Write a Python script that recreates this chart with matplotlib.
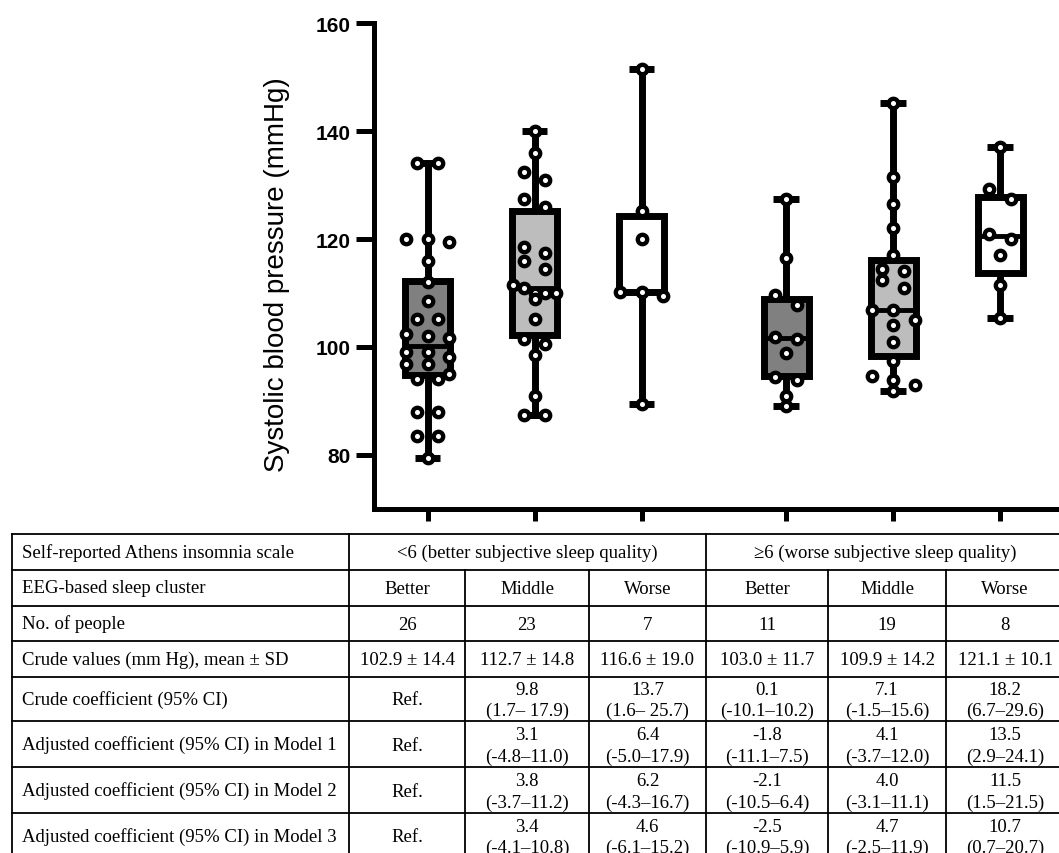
import numpy as np
import matplotlib
matplotlib.use("Agg")
import matplotlib.pyplot as plt

# systolic blood pressure per group
g1 = [134, 134, 120, 120, 119.4, 115.9, 112.0, 108.5, 105.1, 105.1, 102.4, 102.0, 101.6,
      99.0, 99.0, 98.1, 96.9, 96.9, 95.0, 94.0, 94.0, 87.9, 87.9, 83.6, 83.6, 79.4]
g2 = [140.0, 136.0, 132.5, 131.0, 127.5, 126.0, 118.6, 117.5, 115.9, 114.4, 111.5, 111.0,
      110.0, 110.0, 110.0, 108.9, 105.1, 101.4, 100.6, 98.5, 91.0, 87.4, 87.4]
g3 = [151.5, 125.1, 120.0, 110.1, 110.1, 109.5, 89.4]
g4 = [127.5, 116.5, 109.6, 107.8, 101.9, 101.5, 98.9, 94.5, 93.9, 91.0, 89.0]
g5 = [145.2, 131.4, 126.4, 122.0, 117.0, 114.4, 114.0, 112.4, 110.9, 106.9, 106.9, 105.0,
      104.0, 101.0, 97.4, 94.7, 93.9, 93.0, 91.9]
g6 = [137.1, 129.3, 127.4, 121.0, 120.0, 117.0, 111.5, 105.4]
groups = [g1, g2, g3, g4, g5, g6]

# box quartiles as drawn in the figure
q1s = [94.8, 102.2, 110.1, 94.7, 98.3, 113.7]
meds = [100.2, 111.0, 110.1, 101.6, 106.9, 120.6]
q3s = [112.3, 125.2, 124.3, 108.8, 116.2, 127.8]
fills = ["#808080", "#bdbdbd", "white", "#808080", "#bdbdbd", "white"]
positions = [1, 2, 3, 4.35, 5.35, 6.35]

# table contents
row_labels = ["Self-reported Athens insomnia scale", "EEG-based sleep cluster", "No. of people",
              "Crude values (mm Hg), mean \u00b1 SD", "Crude coefficient (95% CI)",
              "Adjusted coefficient (95% CI) in Model 1",
              "Adjusted coefficient (95% CI) in Model 2",
              "Adjusted coefficient (95% CI) in Model 3"]
ais_groups = ["<6 (better subjective sleep quality)", "\u22656 (worse subjective sleep quality)"]
clusters = ["Better", "Middle", "Worse", "Better", "Middle", "Worse"]
n_people = ["26", "23", "7", "11", "19", "8"]
crude_vals = ["102.9 \u00b1 14.4", "112.7 \u00b1 14.8", "116.6 \u00b1 19.0",
              "103.0 \u00b1 11.7", "109.9 \u00b1 14.2", "121.1 \u00b1 10.1"]
crude_coef = ["Ref.", "9.8\n(1.7\u2013 17.9)", "13.7\n(1.6\u2013 25.7)", "0.1\n(-10.1\u201310.2)",
              "7.1\n(-1.5\u201315.6)", "18.2\n(6.7\u201329.6)"]
model1 = ["Ref.", "3.1\n(-4.8\u201311.0)", "6.4\n(-5.0\u201317.9)", "-1.8\n(-11.1\u20137.5)",
          "4.1\n(-3.7\u201312.0)", "13.5\n(2.9\u201324.1)"]
model2 = ["Ref.", "3.8\n(-3.7\u201311.2)", "6.2\n(-4.3\u201316.7)", "-2.1\n(-10.5\u20136.4)",
          "4.0\n(-3.1\u201311.1)", "11.5\n(1.5\u201321.5)"]
model3 = ["Ref.", "3.4\n(-4.1\u201310.8)", "4.6\n(-6.1\u201315.2)", "-2.5\n(-10.9\u20135.9)",
          "4.7\n(-2.5\u201311.9)", "10.7\n(0.7\u201320.7)"]


def swarm(vals, tol=1.95):
    # group close values into rows and spread each row symmetrically
    v = sorted(vals, reverse=True)
    rows = []
    for val in v:
        if rows and rows[-1][0] - val < tol:
            rows[-1].append(val)
        else:
            rows.append([val])
    xs, ys = [], []
    for r in rows:
        k = len(r)
        step = 0.2 if k <= 3 else 0.1
        xs.extend((np.arange(k) - (k - 1) / 2) * step)
        ys.extend(r)
    return np.array(xs), np.array(ys)


plt.rcParams["font.family"] = ["Liberation Sans", "DejaVu Sans"]
fig = plt.figure(figsize=(10.59, 8.54), dpi=100)

ax = fig.add_axes([374 / 1059, (854 - 510) / 854, 1 - 374 / 1059, (510 - 24) / 854])
stats = []
for d, a, m, b in zip(groups, q1s, meds, q3s):
    stats.append(dict(med=m, q1=a, q3=b, whislo=min(d), whishi=max(d), fliers=[]))
bp = ax.bxp(stats, positions=positions, widths=0.42, capwidths=0.24, patch_artist=True,
            showfliers=False,
            boxprops=dict(linewidth=5, edgecolor="black", joinstyle="miter"),
            whiskerprops=dict(linewidth=5, color="black", solid_capstyle="butt"),
            capprops=dict(linewidth=5, color="black", solid_capstyle="butt"),
            medianprops=dict(linewidth=3.5, color="black", solid_capstyle="butt"))
for patch, c in zip(bp["boxes"], fills):
    patch.set_facecolor(c)

for p, d in zip(positions, groups):
    dx, dy = swarm(d)
    ax.plot(p + dx, dy, "o", ms=6.8, mfc="white", mec="black", mew=3.1, zorder=5,
            clip_on=False)

ax.set_xlim(0.5, 6.9)
ax.set_ylim(70, 160)
ax.set_yticks([80, 100, 120, 140, 160])
ax.set_xticks(positions)
ax.set_xticklabels([])
ax.tick_params(axis="y", length=13, width=3.6, labelsize=15, pad=4)
ax.tick_params(axis="x", length=8.5, width=3.6)
for lbl in ax.get_yticklabels():
    lbl.set_fontweight("bold")
for s in ["top", "right"]:
    ax.spines[s].set_visible(False)
for s in ["left", "bottom"]:
    ax.spines[s].set_linewidth(3.6)
ax.set_ylabel("Systolic blood pressure (mmHg)", fontsize=20)
ax.yaxis.set_label_coords(-0.1226, 0.4835)

# table drawn in pixel coordinates
tb = fig.add_axes([0, 0, 1, 1], zorder=-1)
tb.set_xlim(0, 1059)
tb.set_ylim(854, 0)
tb.axis("off")
row_edges = [535, 570.7, 606.7, 642.3, 677.7, 722.3, 768.3, 814, 860]
col_edges = [12, 349, 465, 589, 706, 828, 946, 1064]
lw = 1.3
for y in row_edges:
    tb.plot([col_edges[0], col_edges[-1]], [y, y], color="black", lw=lw, clip_on=False)
for i, x in enumerate(col_edges):
    top = row_edges[0] if i in (0, 1, 4, 7) else row_edges[1]
    tb.plot([x, x], [top, row_edges[-1]], color="black", lw=lw, clip_on=False)

tfont = dict(family="Liberation Serif", fontsize=13.5, color="black")
for r, lab in enumerate(row_labels):
    yc = (row_edges[r] + row_edges[r + 1]) / 2
    tb.text(22, yc, lab, ha="left", va="center", **tfont)
yc = (row_edges[0] + row_edges[1]) / 2
tb.text((col_edges[1] + col_edges[4]) / 2, yc, ais_groups[0], ha="center", va="center", **tfont)
tb.text((col_edges[4] + col_edges[7]) / 2, yc, ais_groups[1], ha="center", va="center", **tfont)
body = [clusters, n_people, crude_vals, crude_coef, model1, model2, model3]
for r, vals in enumerate(body, start=1):
    yc = (row_edges[r] + row_edges[r + 1]) / 2
    for c, v in enumerate(vals):
        xc = (col_edges[c + 1] + col_edges[c + 2]) / 2
        tb.text(xc, yc + 1, v, ha="center", va="center", linespacing=1.35, **tfont)

fig.savefig("out.png", dpi=100)
